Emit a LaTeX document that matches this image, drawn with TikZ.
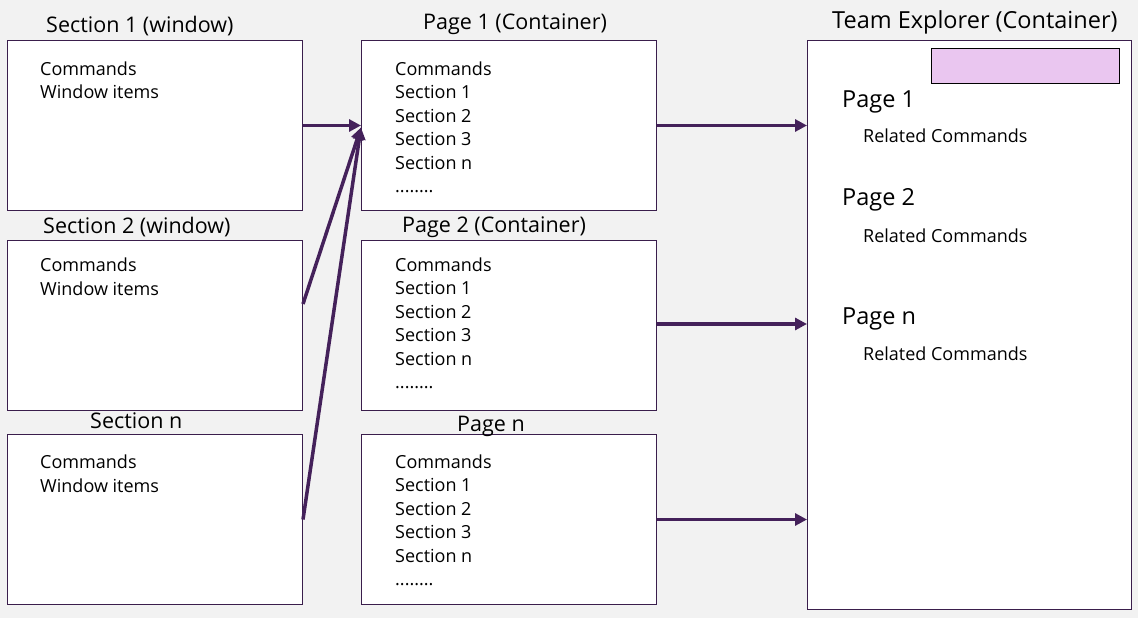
\documentclass[tikz,border=0pt]{standalone}
\usepackage{fontspec}
\setmainfont{Open Sans}
\usetikzlibrary{arrows.meta,positioning}
\definecolor{boxline}{HTML}{3A1E4C}
\definecolor{linkcol}{HTML}{44215A}
\definecolor{barpink}{HTML}{EAC6F0}
\definecolor{bggrey}{HTML}{F2F2F2}
\tikzset{font={\fontsize{18pt}{23.5pt}\selectfont}}

\begin{document}
\begin{tikzpicture}[x=1pt,y=-1pt,
winbox/.style={draw=boxline,fill=white,line width=1pt,anchor=north west,inner sep=0pt,minimum width=295pt,minimum height=170pt},
title/.style={anchor=base west,inner sep=0pt,font={\fontsize{21.5pt}{24pt}\selectfont}},
bigtitle/.style={title,font={\fontsize{23.5pt}{26pt}\selectfont}},
items/.style={anchor=base west,inner sep=0pt,align=left},
link/.style={-{Triangle[length=12pt,width=12pt]},line width=3.5pt,draw=linkcol}
]
\fill[bggrey] (0,0) rectangle (1138,618);
\useasboundingbox (0,0) rectangle (1138,618);

%sections (windows)
\node[winbox] (sec1) at (7,40) {};
\node[winbox] (sec2) at (7,240) {};
\node[winbox] (sec3) at (7,434) {};
\node[title] (sec1t) at (46,33) {Section 1 (window)};
\node[title] (sec2t) at (43,233) {Section 2 (window)};
\node[title] (sec3t) at (90,428) {Section n};
%base of a multi-line node = its last line
\foreach \s/\y in {1/99,2/295,3/492}
  \node[items] (sec\s i) at (40,\y) {Commands\\Window items};

%pages (containers)
\node[winbox] (page1) at (361,40) {};
\node[winbox] (page2) at (361,240) {};
\node[winbox] (page3) at (361,434) {};
\node[title] (page1t) at (423,30) {Page 1 (Container)};
\node[title] (page2t) at (402,232) {Page 2 (Container)};
\node[title] (page3t) at (457,431) {Page n};
\foreach \p/\y in {1/192.5,2/388.5,3/585.5}
  \node[items] (page\p i) at (395,\y) {Commands\\Section 1\\Section 2\\Section 3\\Section n\\........};

%team explorer
\node[winbox,minimum width=324pt,minimum height=569pt] (team) at (807,40) {};
\node[bigtitle] (teamt) at (832,29) {Team Explorer (Container)};
\node[draw=black,fill=barpink,line width=1pt,anchor=north west,inner sep=0pt,minimum width=188pt,minimum height=35pt] (tebar) at (931,48) {};
\node[bigtitle] (tp1) at (842,107) {Page 1};
\node[items] (tc1) at (863,142) {Related Commands};
\node[bigtitle] (tp2) at (842,205) {Page 2};
\node[items] (tc2) at (863,242) {Related Commands};
\node[bigtitle] (tp3) at (842,324) {Page n};
\node[items] (tc3) at (863,360) {Related Commands};

%links
\draw[link] (sec1.east) -- (page1.west);
\draw[link] ([yshift=21.5pt]sec2.east) -- ([yshift=-2pt]page1.west);
\draw[link] (sec3.east) -- ([yshift=-2pt]page1.west);
\draw[link] (page1.east) -- (page1.east -| team.west);
\draw[link] ([yshift=1.5pt]page2.east) -- ([yshift=1.5pt]page2.east -| team.west);
\draw[link] (page3.east) -- (page3.east -| team.west);

\end{tikzpicture}
\end{document}
